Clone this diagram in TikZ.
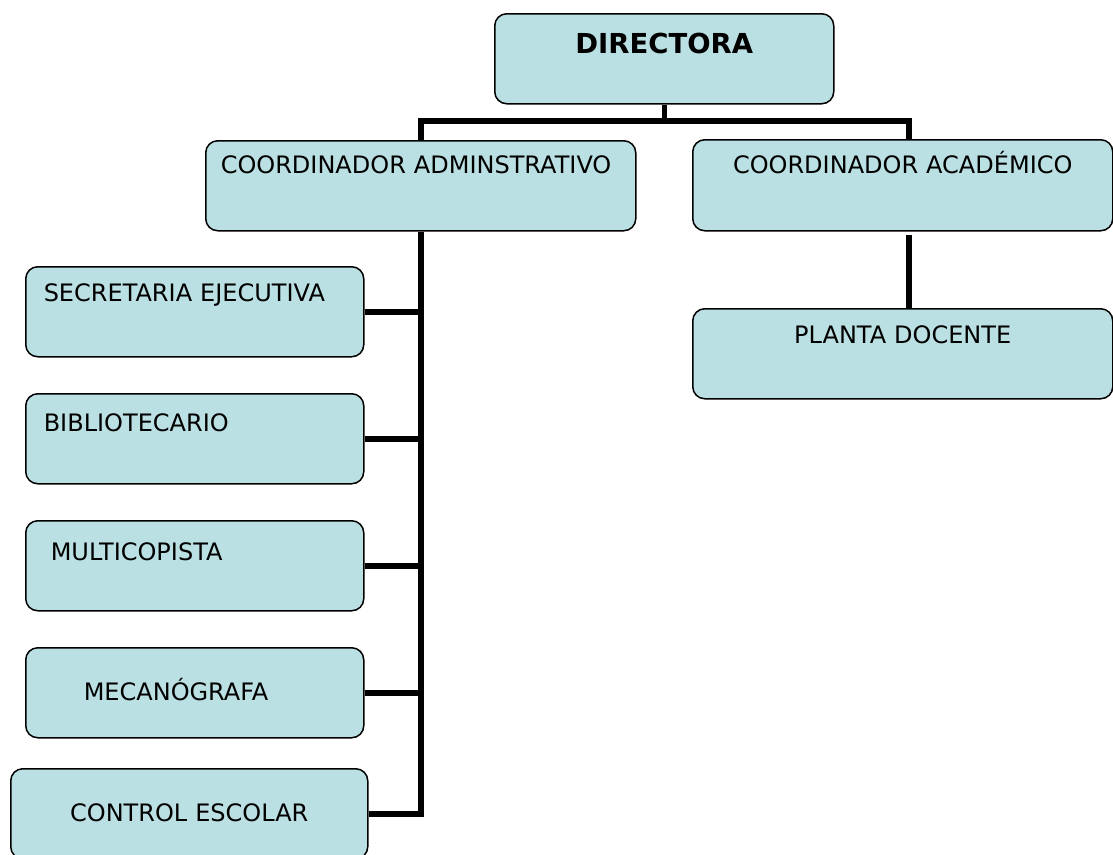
\documentclass[tikz,border=0pt]{standalone}
\usepackage{fontspec}
\setmainfont{DejaVu Sans}
\usepackage{tikz}
\definecolor{celeste}{RGB}{187,224,227}

\begin{document}
\begin{tikzpicture}
  [x=1pt,y=-1pt,
   every node/.style={draw,line width=1.5pt,fill=celeste,rounded corners=12pt,
     anchor=north west,text height=17pt,font=\fontsize{24}{28}\selectfont},
   linea/.style={line width=5.5pt}]
  \useasboundingbox (0,0) rectangle (1113,854);

  \node[inner xsep=10pt,inner ysep=20pt,text width=319pt,text height=20pt,text depth=30pt,align=center,font=\fontsize{27.5}{32}\selectfont\bfseries] (1) at (494,13) {DIRECTORA};
  \node[inner xsep=15pt,inner ysep=16pt,text width=400pt,text depth=41pt,align=left] (2) at (205,140) {COORDINADOR ADMINSTRATIVO};
  \node[inner xsep=10pt,inner ysep=17pt,text width=400pt,text depth=40pt,align=center] (3) at (692,139) {COORDINADOR ACADÉMICO};
  \node[inner xsep=18pt,inner ysep=18pt,text width=302pt,text depth=37pt,align=left] (4) at (25,266) {SECRETARIA EJECUTIVA};
  \node[inner xsep=18pt,inner ysep=21pt,text width=302pt,text depth=31pt,align=left] (5) at (25,393) {BIBLIOTECARIO};
  \node[inner xsep=25pt,inner ysep=23pt,text width=288pt,text depth=27pt,align=left] (6) at (25,520) {MULTICOPISTA};
  \node[inner xsep=58pt,inner ysep=36pt,text width=222pt,text depth=1pt,align=left] (7) at (25,647) {MECANÓGRAFA};
  \node[inner xsep=10pt,inner ysep=36pt,text width=337pt,text depth=1pt,align=center] (8) at (10,768) {CONTROL ESCOLAR};
  \node[inner xsep=10pt,inner ysep=18pt,text width=400pt,text depth=37pt,align=center] (9) at (692,308) {PLANTA DOCENTE};

  \draw[linea] (1.south) -- (1.south |- 0,121);
  \draw[linea] (2.north) -- (2.north |- 0,121) -| ([xshift=6pt]3.north);
  \foreach \from in {4,5,6,7}
    \draw[linea] (\from.east) -- (\from.east -| 2.south);
  \draw[linea] (2.south) |- (8.east);
  \draw[linea] ([xshift=6pt,yshift=-3pt]3.south) -- ([xshift=6pt]9.north);

\end{tikzpicture}
\end{document}
